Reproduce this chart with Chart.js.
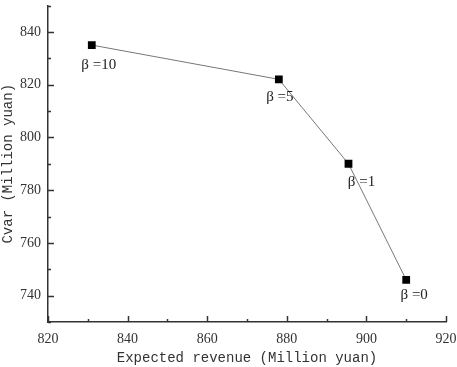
<!DOCTYPE html>
<html>
<head>
<meta charset="utf-8">
<script src="https://cdn.jsdelivr.net/npm/chart.js@4/dist/chart.umd.min.js"></script>
<style>
  html, body { margin: 0; padding: 0; background: #fff; }
  #wrap { width: 457px; height: 367px; }
</style>
</head>
<body>
<div id="wrap"><canvas id="frontierChart"></canvas></div>
<script>
// data
const revenue = [831, 878, 895.5, 910];
const cvar = [835, 822, 790, 746];
const betaLabels = ["β =10", "β =5", "β =1", "β =0"];
const xTicks = [820, 840, 860, 880, 900, 920];
const yTicks = [740, 760, 780, 800, 820, 840];

const points = revenue.map((x, i) => ({ x: x, y: cvar[i] }));
const labelOffset = [[7, 20], [1, 18], [13, 18], [8, 15]];

// inward major/minor ticks
const innerTicks = {
  id: "innerTicks",
  afterDraw(chart) {
    const ctx = chart.ctx;
    const xs = chart.scales.x, ys = chart.scales.y;
    ctx.save();
    ctx.strokeStyle = "#333";
    ctx.lineWidth = 1.5;
    for (let v = 820; v <= 920; v += 10) {
      const px = Math.round(xs.getPixelForValue(v)) + 0.5;
      const len = v % 20 === 0 ? 6 : 3;
      ctx.beginPath();
      ctx.moveTo(px, ys.bottom);
      ctx.lineTo(px, ys.bottom - len);
      ctx.stroke();
    }
    for (let v = 730; v <= 850; v += 10) {
      const py = Math.round(ys.getPixelForValue(v)) + 0.5;
      const len = v % 20 === 0 ? 6 : 3;
      ctx.beginPath();
      ctx.moveTo(xs.left, py);
      ctx.lineTo(xs.left + len, py);
      ctx.stroke();
    }
    ctx.restore();
  }
};

// beta labels under each point
const betaText = {
  id: "betaText",
  afterDatasetsDraw(chart) {
    const ctx = chart.ctx;
    const meta = chart.getDatasetMeta(0);
    ctx.save();
    ctx.font = "15px 'Liberation Serif'";
    ctx.fillStyle = "#222";
    ctx.textAlign = "center";
    ctx.textBaseline = "middle";
    meta.data.forEach((pt, i) => {
      ctx.fillText(betaLabels[i], pt.x + labelOffset[i][0], pt.y + labelOffset[i][1]);
    });
    ctx.restore();
  }
};

new Chart(document.getElementById("frontierChart"), {
  type: "scatter",
  data: {
    datasets: [{
      data: points,
      showLine: true,
      borderColor: "#777",
      borderWidth: 1,
      pointStyle: "rect",
      pointRadius: 5.5,
      pointBackgroundColor: "#000",
      pointBorderColor: "#000",
      pointBorderWidth: 0
    }]
  },
  options: {
    responsive: true,
    maintainAspectRatio: false,
    animation: false,
    layout: { padding: { top: 2, right: 11, left: 0, bottom: 0 } },
    plugins: { legend: { display: false }, tooltip: { enabled: false } },
    scales: {
      x: {
        type: "linear",
        min: 820,
        max: 920,
        afterBuildTicks: (s) => { s.ticks = xTicks.map(v => ({ value: v })); },
        afterFit: (s) => { s.height = 45; s.paddingLeft = 0; s.paddingRight = 0; },
        grid: { display: false, drawTicks: false },
        border: { display: true, color: "#333", width: 1.5 },
        ticks: {
          color: "#333",
          padding: 9,
          font: { family: "'Liberation Serif'", size: 14 },
          maxRotation: 0
        },
        title: {
          display: true,
          text: "Expected revenue (Million yuan)",
          color: "#333",
          font: { family: "'Liberation Mono'", size: 14 },
          padding: { top: 2, bottom: 0 }
        }
      },
      y: {
        type: "linear",
        min: 730,
        max: 850,
        afterBuildTicks: (s) => { s.ticks = yTicks.map(v => ({ value: v })); },
        afterFit: (s) => { s.width = 48; s.paddingTop = 0; s.paddingBottom = 0; },
        grid: { display: false, drawTicks: false },
        border: { display: true, color: "#333", width: 1.5 },
        ticks: {
          color: "#333",
          padding: 7,
          font: { family: "'Liberation Serif'", size: 14, lineHeight: 0.4 }
        },
        title: {
          display: true,
          text: "Cvar (Million yuan)",
          color: "#333",
          font: { family: "'Liberation Mono'", size: 14 },
          padding: { top: 0, bottom: 0 }
        }
      }
    }
  },
  plugins: [innerTicks, betaText]
});
</script>
</body>
</html>
